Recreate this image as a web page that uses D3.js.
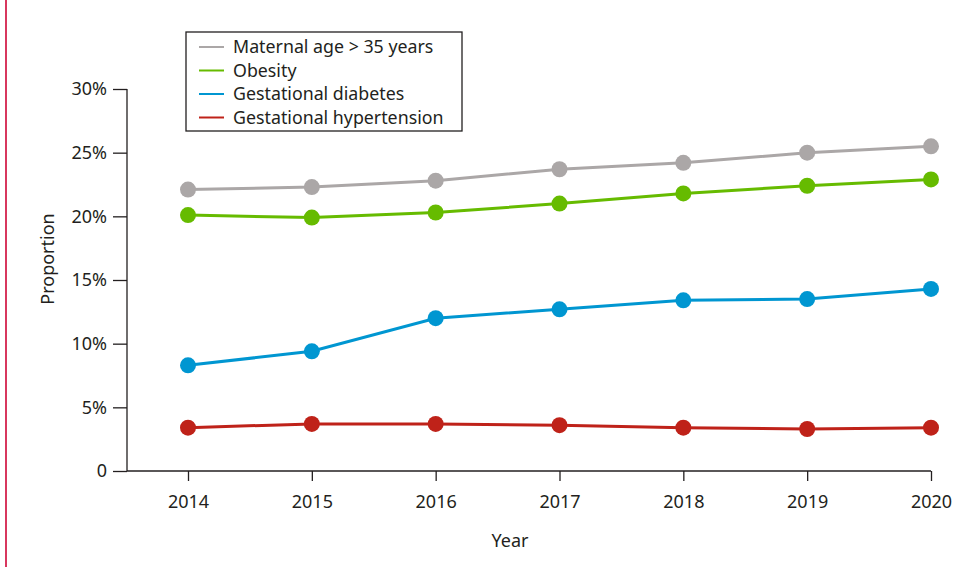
<!DOCTYPE html>
<html>
<head>
<meta charset="utf-8">
<script src="https://cdn.jsdelivr.net/npm/d3@7"></script>
<style>
  body { margin: 0; background: #fff; }
  svg text { font-family: "Noto Sans", "Open Sans", sans-serif; fill: #231f20; }
</style>
</head>
<body>
<div id="chart"></div>
<script>
// data
var years = [2014, 2015, 2016, 2017, 2018, 2019, 2020];
var seriesNames = ["Maternal age > 35 years", "Obesity", "Gestational diabetes", "Gestational hypertension"];
var seriesColors = ["#aba7a7", "#66bb00", "#0096d1", "#bf2219"];
var maternalAge = [22.1, 22.3, 22.8, 23.7, 24.2, 25.0, 25.5];
var obesity = [20.1, 19.9, 20.3, 21.0, 21.8, 22.4, 22.9];
var gestDiabetes = [8.3, 9.4, 12.0, 12.7, 13.4, 13.5, 14.3];
var gestHypertension = [3.4, 3.7, 3.7, 3.6, 3.4, 3.3, 3.4];
var yTicks = [0, 5, 10, 15, 20, 25, 30];

var svgWidth = 968, svgHeight = 567;
var margin = { top: 89, right: 37, bottom: 96, left: 127 };
var chartWidth = svgWidth - margin.left - margin.right;
var chartHeight = svgHeight - margin.top - margin.bottom;

var svg = d3.select("#chart").append("svg")
    .attr("width", svgWidth)
    .attr("height", svgHeight);

// pink side rule
svg.append("line")
    .attr("x1", 6).attr("x2", 6)
    .attr("y1", 0).attr("y2", svgHeight)
    .attr("stroke", "#d8375e")
    .attr("stroke-width", 2);

var chartGroup = svg.append("g")
    .attr("transform", `translate(${margin.left}, ${margin.top})`);

var xScale = d3.scalePoint().domain(years).range([61, chartWidth]);
var yScale = d3.scaleLinear().domain([0, 30]).range([chartHeight, 0]);

var bottomAxis = d3.axisBottom(xScale).tickSize(10).tickPadding(14);
var leftAxis = d3.axisLeft(yScale).tickValues(yTicks).tickSize(14).tickPadding(4)
    .tickFormat(d => d === 0 ? "0" : d + "%");

var xAxisG = chartGroup.append("g")
    .attr("transform", `translate(0, ${chartHeight})`)
    .call(bottomAxis);
xAxisG.select(".domain").attr("d", `M0,0H${chartWidth}`);

var yAxisG = chartGroup.append("g").call(leftAxis);
yAxisG.select(".domain").attr("d", `M0,0V${chartHeight}`);

[xAxisG, yAxisG].forEach(function(g) {
    g.selectAll("path, line").attr("stroke", "#231f20").attr("stroke-width", 1.3);
    g.selectAll("text").attr("font-size", 18).attr("fill", "#231f20")
        .style("font-family", "'Noto Sans', 'Open Sans', sans-serif");
});
yAxisG.selectAll(".tick text").attr("dx", "-2");

// axis titles
chartGroup.append("text")
    .attr("transform", "rotate(-90)")
    .attr("x", -((259 - margin.top)))
    .attr("y", 48 - margin.left + 6)
    .attr("text-anchor", "middle")
    .attr("font-size", 18)
    .text("Proportion");

chartGroup.append("text")
    .attr("x", 510 - margin.left)
    .attr("y", 547 - margin.top)
    .attr("text-anchor", "middle")
    .attr("font-size", 18)
    .text("Year");

var allSeries = [maternalAge, obesity, gestDiabetes, gestHypertension];
var line = d3.line()
    .x((d, i) => xScale(years[i]))
    .y(d => yScale(d));

allSeries.forEach(function(values, s) {
    chartGroup.append("path")
        .datum(values)
        .attr("fill", "none")
        .attr("stroke", seriesColors[s])
        .attr("stroke-width", 3)
        .attr("d", line);

    chartGroup.selectAll(".pt" + s)
        .data(values)
        .enter()
        .append("circle")
        .attr("cx", (d, i) => xScale(years[i]))
        .attr("cy", d => yScale(d))
        .attr("r", 8)
        .attr("fill", seriesColors[s]);
});

// legend
var legend = svg.append("g").attr("transform", "translate(186, 32)");
legend.append("rect")
    .attr("width", 276).attr("height", 99)
    .attr("fill", "#fff")
    .attr("stroke", "#231f20")
    .attr("stroke-width", 1.3);

seriesNames.forEach(function(name, i) {
    var row = legend.append("g").attr("transform", `translate(0, ${15 + i * 23.5})`);
    row.append("line")
        .attr("x1", 13).attr("x2", 38)
        .attr("stroke", seriesColors[i])
        .attr("stroke-width", 2);
    row.append("text")
        .attr("x", 47)
        .attr("dy", "0.35em")
        .attr("font-size", 17.8)
        .text(name);
});
</script>
</body>
</html>
